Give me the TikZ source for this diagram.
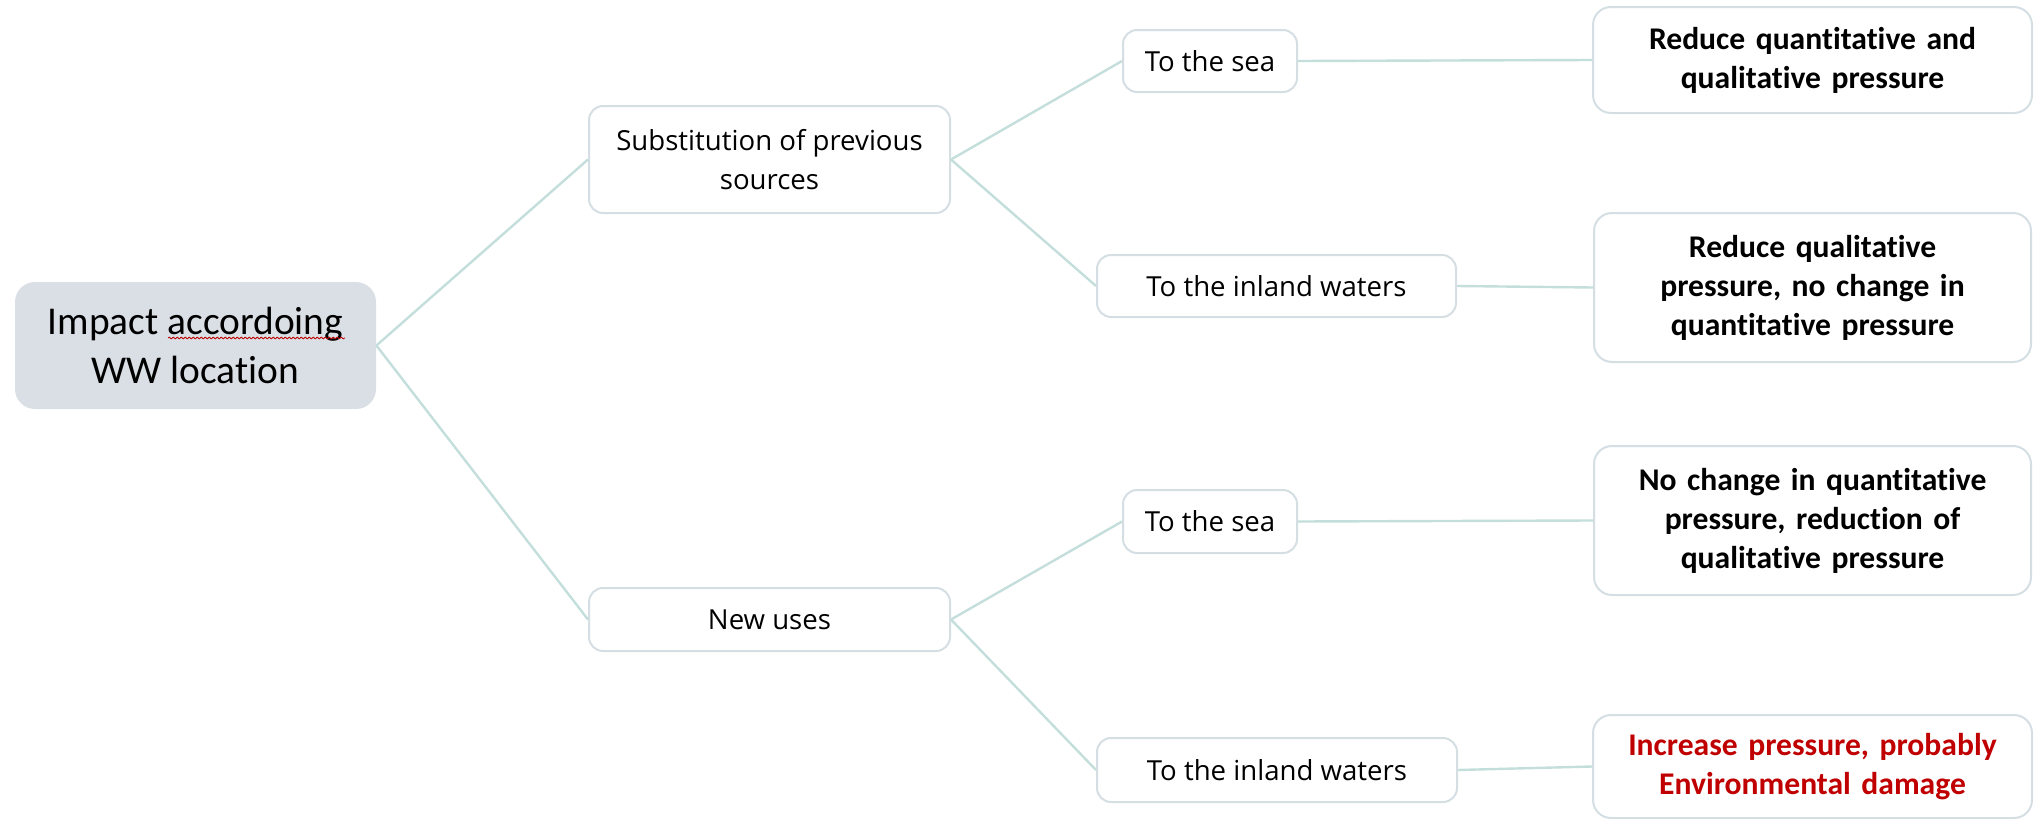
\documentclass[tikz,border=0pt]{standalone}
\usepackage{fontspec}
\setmainfont{Carlito}[Ligatures=CommonOff]
\newfontfamily\uifont{Open Sans}
\usetikzlibrary{decorations.pathmorphing}
\definecolor{rootfill}{HTML}{D9DFE5}
\definecolor{boxline}{HTML}{D5DFE3}
\definecolor{linkline}{HTML}{C3DEDB}
\definecolor{alertred}{HTML}{C00000}
\tikzset{
  rootbox/.style={draw=none, fill=rootfill, rounded corners=10pt, align=center,
    inner sep=0pt, font=\fontsize{19.7}{24.5}\selectfont},
  midbox/.style={draw=boxline, line width=1pt, fill=white, rounded corners=7pt,
    align=center, inner sep=0pt, font=\uifont\fontsize{13.8}{19.5}\selectfont},
  resbox/.style={draw=boxline, line width=1pt, fill=white, rounded corners=9pt,
    align=center, inner sep=0pt, text width=214pt,
    font=\bfseries\fontsize{15.8}{19.5}\selectfont},
  link/.style={draw=linkline, line width=1.2pt}
}
\begin{document}
\begin{tikzpicture}[x=0.5pt, y=-0.5pt]
  \useasboundingbox (0,0) rectangle (2040,819);

  % root
  \node[rootbox, minimum width=180.5pt, minimum height=63.5pt] (root) at (195.5,345.5)
    {Impact accordoing\\WW location};
  % spell-check squiggle under the misspelt word
  \draw[alertred, line width=0.4pt, decorate,
        decoration={snake, amplitude=0.45pt, segment length=2pt}]
    (168,338) -- (345,338);

  % second level
  \node[midbox, minimum width=180.5pt, minimum height=53.5pt] (subst) at (769.5,159.5)
    {Substitution of previous\\sources};
  \node[midbox, minimum width=180.5pt, minimum height=31.5pt] (newuse) at (769.5,619.5)
    {New uses};

  % third level
  \node[midbox, minimum width=87pt, minimum height=31pt] (seaA) at (1210,61) {To the sea};
  \node[midbox, minimum width=179.5pt, minimum height=31pt] (inlandA) at (1276.5,286) {To the inland waters};
  \node[midbox, minimum width=87pt, minimum height=31.5pt] (seaB) at (1210,521.5) {To the sea};
  \node[midbox, minimum width=180pt, minimum height=32pt] (inlandB) at (1277,770) {To the inland waters};

  % outcomes
  \node[resbox, minimum width=219.5pt, minimum height=53pt] (resA) at (1812.5,60)
    {Reduce quantitative and\\qualitative pressure};
  \node[resbox, minimum width=218.5pt, minimum height=74.5pt] (resB) at (1812.5,287.5)
    {Reduce qualitative\\pressure, no change in\\quantitative pressure};
  \node[resbox, minimum width=218.5pt, minimum height=74.5pt] (resC) at (1812.5,520.5)
    {No change in quantitative\\pressure, reduction of\\qualitative pressure};
  \node[resbox, minimum width=219.5pt, minimum height=51.5pt, text=alertred] (resD) at (1812.5,766.5)
    {Increase pressure, probably\\Environmental damage};

  % connectors
  \draw[link] (root.east) -- (subst.west);
  \draw[link] (root.east) -- (newuse.west);
  \draw[link] (subst.east) -- (seaA.west);
  \draw[link] (subst.east) -- (inlandA.west);
  \draw[link] (newuse.east) -- (seaB.west);
  \draw[link] (newuse.east) -- (inlandB.west);
  \draw[link] (seaA.east) -- (resA.west);
  \draw[link] (inlandA.east) -- (resB.west);
  \draw[link] (seaB.east) -- (resC.west);
  \draw[link] (inlandB.east) -- (resD.west);
\end{tikzpicture}
\end{document}
